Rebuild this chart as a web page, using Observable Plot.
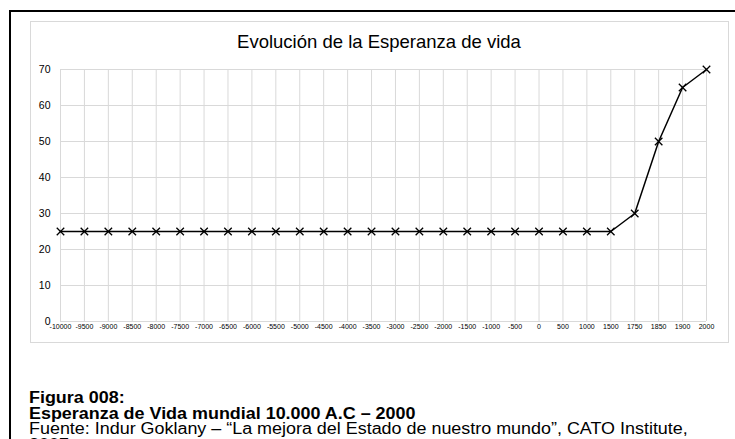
<!DOCTYPE html>
<html><head><meta charset="utf-8">
<script src="https://cdn.jsdelivr.net/npm/d3@7"></script>
<script src="https://cdn.jsdelivr.net/npm/@observablehq/plot@0.6"></script>
<style>
html,body{margin:0;padding:0;width:735px;height:439px;overflow:hidden;background:#fff;font-family:"Liberation Sans",Arial,sans-serif;}
#outer{position:absolute;left:9px;top:10px;width:800px;height:500px;border-left:2px solid #000;border-top:2px solid #000;}
#box{position:absolute;left:30px;top:21px;width:697px;height:320px;border:1px solid #d9d9d9;}
#title{position:absolute;left:30px;width:698px;top:33px;text-align:center;font-size:18.5px;line-height:18.5px;color:#000;}
#chart{position:absolute;left:0;top:0;}
#chart svg{display:block;}
#caption{position:absolute;left:29px;top:390px;font-size:16px;line-height:15.5px;color:#000;white-space:nowrap;transform:scaleX(1.12);transform-origin:left top;}
#caption b{font-weight:bold;}
</style>
</head><body>
<div id="outer"></div>
<div id="box"></div>
<div id="chart"></div>
<div id="title">Evolución de la Esperanza de vida</div>
<div id="caption"><b>Figura 008:</b><br><b>Esperanza de Vida mundial 10.000 A.C – 2000</b><br>Fuente: Indur Goklany – “La mejora del Estado de nuestro mundo”, CATO Institute,<br>2007</div>
<script>
const years = ["-10000","-9500","-9000","-8500","-8000","-7500","-7000","-6500","-6000","-5500","-5000","-4500","-4000","-3500","-3000","-2500","-2000","-1500","-1000","-500","0","500","1000","1500","1750","1850","1900","2000"];
const lifeExpectancy = [25,25,25,25,25,25,25,25,25,25,25,25,25,25,25,25,25,25,25,25,25,25,25,25,30,50,65,70];
const yTicks = [0,10,20,30,40,50,60,70];

// categorical positions (evenly spaced, as in the original category axis)
const idx = years.map((_, i) => i);
const data = years.map((y, i) => ({i, year: y, value: lifeExpectancy[i]}));

const chart = Plot.plot({
  width: 735,
  height: 345,
  marginTop: 69,
  marginLeft: 60,
  marginRight: 29,
  marginBottom: 24,
  style: {fontFamily: "'Liberation Sans', Arial, sans-serif", background: "transparent", color: "#000"},
  x: {type: "linear", domain: [0, years.length - 1], label: null},
  y: {domain: [0, 70], label: null},
  marks: [
    Plot.ruleX(idx, {stroke: "#d9d9d9", strokeWidth: 1}),
    Plot.ruleY(yTicks, {stroke: "#d9d9d9", strokeWidth: 1}),
    Plot.axisY({ticks: yTicks, tickSize: 0, tickPadding: 10, fontSize: 10.5, fill: "#000", label: null}),
    Plot.axisX({ticks: idx, tickFormat: (i) => years[i], tickSize: 0, tickPadding: 3, fontSize: 7, fill: "#000", label: null}),
    Plot.line(data, {x: "i", y: "value", stroke: "#000", strokeWidth: 1.5}),
    Plot.dot(data, {x: "i", y: "value", symbol: "times", stroke: "#000", strokeWidth: 1.3, r: 3.5})
  ]
});
document.getElementById("chart").appendChild(chart);
</script>
</body></html>
